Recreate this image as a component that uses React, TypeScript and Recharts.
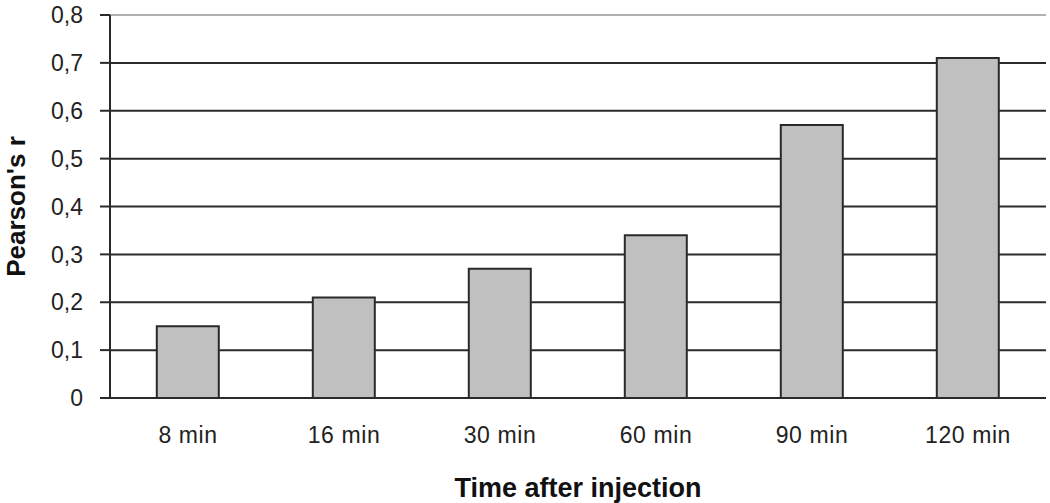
import {
  BarChart,
  Bar,
  XAxis,
  YAxis,
  CartesianGrid,
  ReferenceLine,
} from "recharts";

const categories = ["8 min", "16 min", "30 min", "60 min", "90 min", "120 min"];
const pearsonR = [0.15, 0.21, 0.27, 0.34, 0.57, 0.71];
const yTicks = [0, 0.1, 0.2, 0.3, 0.4, 0.5, 0.6, 0.7, 0.8];
const boundaryTicks = [0, 1, 2, 3, 4, 5, 6];

const data = categories.map((name, i) => ({ name, r: pearsonR[i], idx: i + 0.5 }));

const font = "'Liberation Sans', Arial, sans-serif";
const fmt = (v: number) => (v === 0 ? "0" : v.toFixed(1).replace(".", ","));

export default function App() {
  return (
    <div style={{ position: "absolute", left: 0, top: 0, background: "#fff" }}>
      <BarChart
        width={1050}
        height={503}
        data={data}
        margin={{ top: 15, right: 4, bottom: 0, left: 0 }}
        barCategoryGap="30%"
      >
        <CartesianGrid vertical={false} stroke="#2a2a2a" strokeWidth={2} />
        <ReferenceLine y={0.8} stroke="#b0b0b0" strokeWidth={2} />
        <XAxis
          dataKey="name"
          height={105}
          tickLine={false}
          tickSize={0}
          tickMargin={29}
          axisLine={{ stroke: "#2a2a2a", strokeWidth: 2 }}
          tick={{ fill: "#222", fontSize: 23, fontFamily: font, letterSpacing: 0.6 }}
          label={{
            value: "Time after injection",
            position: "insideBottom",
            offset: 6,
            style: { fill: "#111", fontSize: 27, fontWeight: "bold", fontFamily: font },
          }}
        />
        <XAxis
          xAxisId="bounds"
          type="number"
          dataKey="idx"
          domain={[0, 6]}
          ticks={boundaryTicks}
          height={0}
          axisLine={false}
          tick={false}
          tickSize={7}
          tickLine={{ stroke: "#2a2a2a", strokeWidth: 2 }}
        />
        <YAxis
          width={110}
          domain={[0, 0.8]}
          ticks={yTicks}
          tickFormatter={fmt}
          tickSize={10}
          tickMargin={17}
          tickLine={{ stroke: "#2a2a2a", strokeWidth: 2 }}
          axisLine={{ stroke: "#2a2a2a", strokeWidth: 2 }}
          tick={{ fill: "#222", fontSize: 23, fontFamily: font }}
          label={{
            value: "Pearson's r",
            angle: -90,
            position: "insideLeft",
            offset: 16,
            style: { textAnchor: "middle", fill: "#111", fontSize: 26, fontWeight: "bold", fontFamily: font },
          }}
        />
        <YAxis
          yAxisId="right"
          orientation="right"
          width={0}
          tick={false}
          tickLine={false}
          axisLine={{ stroke: "#b0b0b0", strokeWidth: 2 }}
        />
        <Bar
          dataKey="r"
          fill="#c0c0c0"
          stroke="#2a2a2a"
          strokeWidth={2}
          isAnimationActive={false}
        />
      </BarChart>
    </div>
  );
}
